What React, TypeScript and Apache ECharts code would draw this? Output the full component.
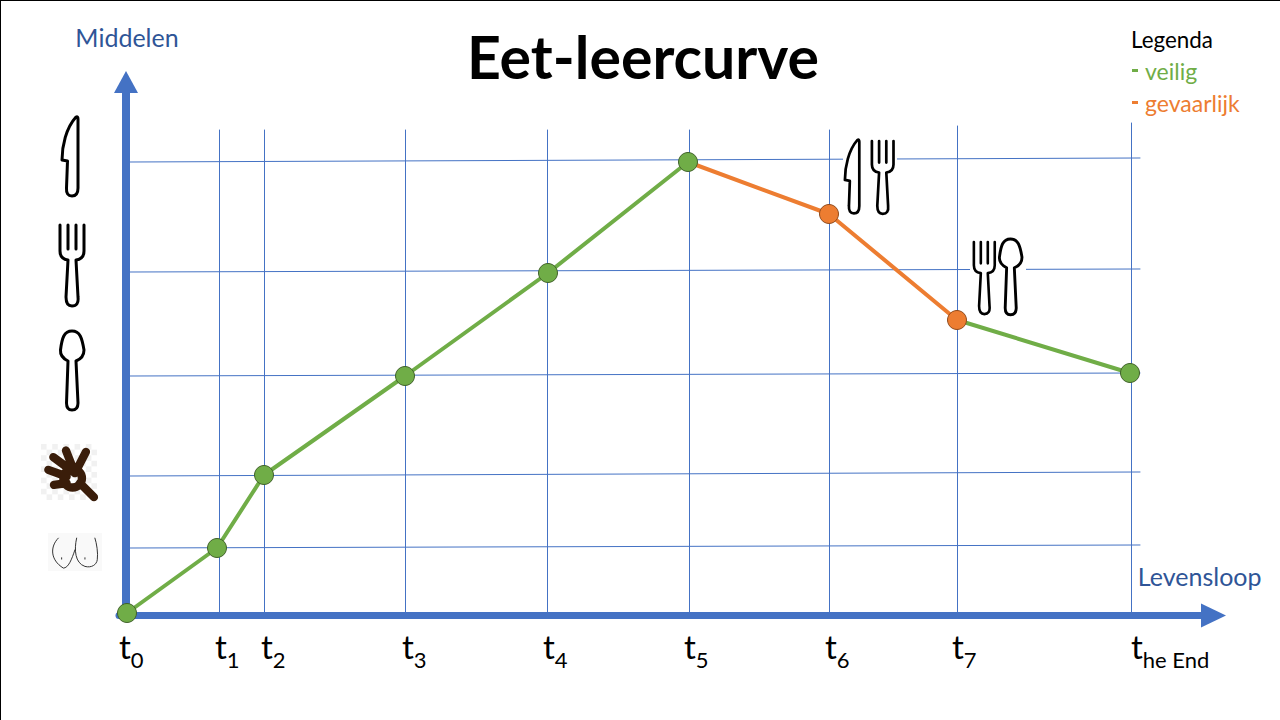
import React, { useEffect, useRef } from "react";
import * as echarts from "echarts";

const FONT = "Lato";
const AXIS_BLUE = "#4472c4";
const TEXT_BLUE = "#2f5597";
const GREEN = "#70ad47";
const ORANGE = "#ed7d31";

const timeValues = [8, 98, 145, 286, 429, 569, 710, 838, 1011];
const levelValues = [0, 65, 138, 237, 340, 451, 399, 293, 240];
const safeFirst = [0, 1, 2, 3, 4, 5];
const dangerous = [5, 6, 7];
const safeLast = [7, 8];
const greenDots = [0, 1, 2, 3, 4, 5, 8];
const orangeDots = [6, 7];

const tickNames = ["0", "1", "2", "3", "4", "5", "6", "7", "he End"];
const tickAnchors = [0, 96, 142, 283, 424, 565, 706, 833, 1012];

const gridTimes = [100.5, 145.5, 286.5, 428.5, 570.5, 710.5, 838.5, 1012.5];
const gridTops = [483, 483, 483, 483, 483, 483, 487, 490];
const gridLevelsLeft = [451, 341, 237, 137, 65];
const gridLevelsRight = [455, 344, 240, 141, 68];
const gridStart = 11;
const gridEnd = 1021;

const KNIFE = "M15 1 Q17 0 17 3 L17 72 Q17 80 11 80 Q5 80 5.5 72 L6.5 45 L1 44 C1 30 5 12 15 1 Z";
const FORK = "M1 0 V26 Q1 34 9 35 L7 72 Q7 81 13 81 Q20 81 19 72 L17 35 Q25 34 25 26 V0 M9 0 V24 M17 0 V24";
const SPOON = "M13 1 C5 1 3 8 1.5 20 C1 26 5 29 9 31 L7.5 73 Q7.5 80 13 80 Q19 80 19 73 L17 31 C22 29 25 26 25 20 C23 8 21 1 13 1 Z";
const HAND = "M135 460 L70 412 M135 460 L108 392 M135 460 L168 396 M110 470 L55 450 M110 490 L72 495 M150 490 L192 532 M100 475 A28 28 0 1 1 156 475 A28 28 0 1 1 100 475";
const BREASTS = "M85 655 C60 680 60 720 100 745 C115 745 125 720 135 690 M140 655 C132 690 135 730 165 740 C185 745 200 735 202 720 C205 700 200 670 195 655 M95 714 L95 718 M165 714 L165 718";

echarts.graphic.registerShape("knifeIcon", echarts.graphic.extendPath(KNIFE, {}));
echarts.graphic.registerShape("forkIcon", echarts.graphic.extendPath(FORK, {}));
echarts.graphic.registerShape("spoonIcon", echarts.graphic.extendPath(SPOON, {}));
echarts.graphic.registerShape("handIcon", echarts.graphic.extendPath(HAND, {}));
echarts.graphic.registerShape("breastsIcon", echarts.graphic.extendPath(BREASTS, {}));

const pick = (idx: number[]) => idx.map((i) => [timeValues[i], levelValues[i]]);

const icon = (type: string, x: number, y: number, sx = 1, sy = 1) => ({
  type,
  x,
  y,
  scaleX: sx,
  scaleY: sy,
  z: 20,
  silent: true,
  style: { fill: "transparent", stroke: "#000", lineWidth: 3, lineCap: "round", lineJoin: "round" },
});

const whiteBox = (x: number, y: number, width: number, height: number, fill = "#fff") => ({
  type: "rect",
  z: 15,
  silent: true,
  shape: { x, y, width, height },
  style: { fill },
});

const checker = () => {
  const cells: any[] = [];
  for (let i = 0; i < 10; i++) {
    for (let j = 0; j < 10; j++) {
      if ((i + j) % 2 === 0) cells.push(whiteBox(41 + i * 5.6, 444 + j * 5.6, 5.6, 5.6, "#f1f1f1"));
    }
  }
  return cells;
};

const lineSeries = (name: string, data: number[][], color: string, width: number, z: number) => ({
  name,
  type: "line",
  data,
  z,
  clip: false,
  silent: true,
  showSymbol: false,
  symbol: "none",
  lineStyle: { color, width, cap: "round" },
  itemStyle: { color },
});

const dots = (name: string, idx: number[], color: string, border: string) => ({
  name,
  type: "scatter",
  data: pick(idx),
  z: 6,
  clip: false,
  silent: true,
  symbol: "circle",
  symbolSize: 19,
  itemStyle: { color, borderColor: border, borderWidth: 1, opacity: 1 },
});

export default function App() {
  const ref = useRef<HTMLDivElement>(null);

  useEffect(() => {
    document.body.style.margin = "0";
    const chart = echarts.init(ref.current!, null, { renderer: "svg" });
    chart.setOption({
      animation: false,
      backgroundColor: "#fff",
      textStyle: { fontFamily: FONT },
      title: {
        text: "Eet-leercurve",
        left: 638,
        top: 22,
        textAlign: "center",
        textStyle: { fontFamily: FONT, fontWeight: "bold", fontSize: 59, color: "#000" },
      },
      legend: {
        orient: "vertical",
        left: 1132,
        top: 59,
        padding: 0,
        itemWidth: 6,
        itemHeight: 3,
        itemGap: 9,
        icon: "rect",
        selectedMode: false,
        data: [
          { name: "veilig", textStyle: { color: GREEN } },
          { name: "gevaarlijk", textStyle: { color: ORANGE } },
        ],
        textStyle: { fontFamily: FONT, fontSize: 23, padding: [0, 0, 0, 2] },
      },
      grid: { left: 119, right: 66.5, top: 82, bottom: 107 },
      xAxis: {
        type: "value",
        min: 0,
        max: 1094.5,
        offset: 2.5,
        name: "Levensloop",
        nameLocation: "end",
        nameGap: 48,
        nameTextStyle: {
          fontFamily: FONT,
          fontSize: 25,
          color: TEXT_BLUE,
          align: "right",
          verticalAlign: "bottom",
          padding: [0, 0, 27, 0],
        },
        axisLine: {
          show: true,
          onZero: false,
          symbol: ["none", "triangle"],
          symbolSize: [24, 25],
          lineStyle: { color: AXIS_BLUE, width: 7 },
        },
        axisTick: { show: false },
        splitLine: { show: false },
        axisLabel: {
          show: true,
          customValues: tickAnchors,
          align: "left",
          margin: 14,
          hideOverlap: false,
          showMinLabel: true,
          showMaxLabel: true,
          formatter: (v: number) => {
            const i = tickAnchors.indexOf(v);
            return `{t|t}{s|${tickNames[i]}}`;
          },
          rich: {
            t: { fontFamily: FONT, fontSize: 33, color: "#000", verticalAlign: "bottom", padding: [0, 0, 8, 0] },
            s: { fontFamily: FONT, fontSize: 22, color: "#000", verticalAlign: "bottom" },
          },
        },
      },
      yAxis: {
        type: "value",
        min: 0,
        max: 531,
        offset: -7,
        name: "Middelen",
        nameLocation: "end",
        nameGap: 33,
        nameTextStyle: { fontFamily: FONT, fontSize: 25, color: TEXT_BLUE, align: "center", padding: [0, 0, 0, 2] },
        axisLine: {
          show: true,
          onZero: false,
          symbol: ["none", "triangle"],
          symbolSize: [24, 22],
          lineStyle: { color: AXIS_BLUE, width: 8 },
        },
        axisTick: { show: false },
        axisLabel: { show: false },
        splitLine: { show: false },
      },
      series: [
        ...gridTimes.map((t, i) =>
          lineSeries(`raster-v${i}`, [[t, 0], [t, gridTops[i]]], AXIS_BLUE, 1, 1)
        ),
        ...gridLevelsLeft.map((l, i) =>
          lineSeries(`raster-h${i}`, [[gridStart, l], [gridEnd, gridLevelsRight[i]]], AXIS_BLUE, 1, 1)
        ),
        lineSeries("veilig", pick(safeFirst), GREEN, 4, 4),
        lineSeries("veilig-2", pick(safeLast), GREEN, 4, 4),
        lineSeries("gevaarlijk", pick(dangerous), ORANGE, 4, 4),
        dots("punten-veilig", greenDots, GREEN, "#40612a"),
        dots("punten-gevaarlijk", orangeDots, ORANGE, "#8f4a1c"),
      ],
      graphic: {
        elements: [
          { type: "line", z: 30, silent: true, shape: { x1: 0, y1: 0.5, x2: 1280, y2: 0.5 }, style: { stroke: "#000", lineWidth: 1 } },
          { type: "line", z: 30, silent: true, shape: { x1: 0.5, y1: 0, x2: 0.5, y2: 720 }, style: { stroke: "#000", lineWidth: 1 } },
          {
            type: "text",
            z: 30,
            x: 1131,
            y: 28,
            style: { text: "Legenda", fill: "#000", fontFamily: FONT, fontSize: 22.4 },
          },
          whiteBox(843, 136, 54, 82),
          whiteBox(970, 236, 56, 82),
          icon("knifeIcon", 61, 116),
          icon("forkIcon", 59, 225),
          icon("spoonIcon", 59, 330),
          icon("knifeIcon", 844, 139, 0.9, 0.93),
          icon("forkIcon", 871, 141, 0.9, 0.9),
          icon("forkIcon", 973, 242, 0.87, 0.89),
          icon("spoonIcon", 998, 238, 0.96, 0.96),
          ...checker(),
          {
            type: "handIcon",
            x: 30,
            y: 320,
            scaleX: 1 / 3,
            scaleY: 1 / 3,
            z: 20,
            silent: true,
            style: { fill: "transparent", stroke: "#3a1d0a", lineWidth: 25, lineCap: "round" },
          },
          whiteBox(48, 533, 54, 38, "#f9f9f9"),
          {
            type: "breastsIcon",
            x: 30,
            y: 320,
            scaleX: 1 / 3,
            scaleY: 1 / 3,
            z: 20,
            silent: true,
            style: { fill: "transparent", stroke: "#333", lineWidth: 3, lineCap: "round" },
          },
        ],
      },
    });
    return () => chart.dispose();
  }, []);

  return <div ref={ref} style={{ position: "fixed", left: 0, top: 0, width: 1280, height: 720 }} />;
}
